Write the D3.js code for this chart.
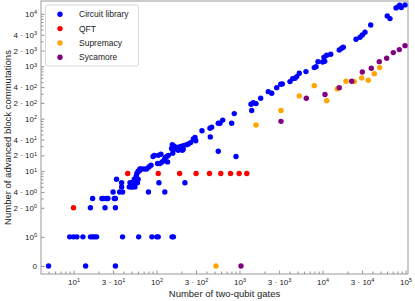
<!DOCTYPE html>
<html>
<head>
<meta charset="utf-8">
<script src="https://cdn.jsdelivr.net/npm/d3@7"></script>
<style>
body { margin: 0; background: #fff; }
text { font-family: "Liberation Sans", Arial, sans-serif; fill: #222; }
</style>
</head>
<body>
<div id="chart"></div>
<script>
var width = 415;
var height = 301;

// Circuit library: two-qubit gates / advanced block commutations
var circuitGates = [5, 14, 32,
	9, 10, 11, 13, 16, 17, 18, 19, 39, 61, 88, 101, 105, 154, 160,
	16, 24, 32,
	17, 22, 23, 25, 26, 31, 32,
	30, 36, 39, 80, 126,
	38, 47, 50, 51, 55,
	38, 48, 51, 54, 59, 107, 220,
	33, 54, 60,
	57, 58, 60, 62, 63, 66, 71, 76, 81, 86, 91, 94, 103, 105, 110, 113, 117, 123, 127, 133, 136, 139,
	152, 155, 157, 159, 164, 175, 183, 188, 188, 201, 205, 210, 216, 231, 242, 258, 278, 291, 297, 353,
	441, 445, 462, 555, 555, 582, 628, 805, 865, 908,
	1376, 1403, 1467, 1581, 1800, 2223, 2444, 2807, 3137, 3278, 4059, 4375, 4665, 4889, 5254, 6325,
	7967, 8350, 8827, 10050, 10420, 10640, 11240, 12560, 15930, 17030, 17820,
	25350, 28310, 30170, 32520, 38100, 60300, 65040, 76880, 81870, 85000, 89000, 98640];
var circuitComms = [0, 0, 0,
	1, 1, 1, 1, 1, 1, 1, 1, 1, 1, 1, 1, 1, 1, 1,
	2, 2, 2,
	3, 3, 3, 3, 3, 3, 3,
	4, 4, 4, 4, 4,
	5, 5, 5, 5, 5,
	6, 6, 6, 6, 6, 6, 6,
	7, 7, 7,
	8, 9, 10, 10, 11, 11, 11, 11, 12, 13, 19, 20, 14, 20, 14, 21, 15, 16, 18, 19, 15, 20,
	27, 32, 22, 25, 30, 28, 25, 29, 26, 30, 25, 26, 31, 32, 33, 35, 41, 44, 38, 59,
	66, 45, 69, 82, 24, 82, 94, 82, 125, 19,
	189, 143, 202, 194, 246, 328, 306, 391, 455, 461, 510, 582, 592, 635, 738, 791,
	943, 985, 1227, 1211, 1489, 1250, 1626, 1699, 2052, 2212, 2311,
	3284, 3586, 3969, 4467, 6152, 9141, 8123, 13000, 13770, 14630, 13160, 14830];

var qftGates = [10, 45, 105, 190, 300, 435, 595, 780, 990, 1225];
var qftComms = [2, 9, 9, 9, 9, 9, 9, 9, 9, 9];

var supremacyGates = [521, 1581, 3162, 5254, 7967, 11240, 15080, 19190, 24160, 29650, 35620, 42080, 48880];
var supremacyComms = [0, 76, 143, 272, 427, 221, 370, 519, 510, 600, 542, 724, 943];

var sycamoreGates = [1042, 3162, 6383, 10720, 15930, 22480, 30170, 38720, 48320, 59340, 71290, 84170, 98640];
var sycamoreComms = [0, 89, 246, 290, 391, 519, 780, 918, 1227, 1425, 1823, 2080, 2478];

var seriesNames = ["Circuit library", "QFT", "Supremacy", "Sycamore"];
var seriesColors = ["#0000ff", "#ff0000", "#ffa500", "#800080"];

var xMajor = [10, 30, 100, 300, 1000, 3000, 10000, 30000, 100000];
var yMajor = [0, 1, 2, 4, 10, 20, 40, 100, 200, 400, 1000, 2000, 4000, 10000];

var margins = { left: 41, right: 7, top: 1, bottom: 27 };
var plotRight = width - margins.right;
var plotBottom = height - margins.bottom;

var svg = d3.select("#chart").append("svg")
	.attr("width", width)
	.attr("height", height);

var x = d3.scaleLog().domain([4.06, 107200]).range([margins.left, plotRight]);

// symlog like matplotlib (linthresh 2, linscale 1)
var linthresh = 2;
var linscaleAdj = 1 / (1 - 0.1);
function symT(v) {
	var a = Math.abs(v);
	if (a <= linthresh) return v / linthresh * linscaleAdj;
	return Math.sign(v) * (linscaleAdj + Math.log10(a / linthresh));
}
var yLin = d3.scaleLinear().domain([symT(-0.275), symT(17600)]).range([plotBottom, margins.top]);
function y(v) { return yLin(symT(v)); }
y.range = function () { return yLin.range(); };
y.domain = function () { return [-0.275, 17600]; };
y.copy = function () { return y; };

function minorTicks(mults, lo, hi, skip) {
	var out = [];
	for (var e = 0; e <= 5; e++) {
		mults.forEach(function (m) {
			var v = m * Math.pow(10, e);
			if (v > lo && v < hi && skip.indexOf(v) < 0) out.push(v);
		});
	}
	return out;
}
var xMinor = minorTicks([2, 4, 5, 6, 7, 8, 9], 4.06, 107200, xMajor);
var yMinor = minorTicks([3, 5, 6, 7, 8, 9], 2, 17600, yMajor);

function fmt(t, v) {
	t.text(null);
	if (v === 0) { t.text("0"); return; }
	var e = Math.floor(Math.log10(v) + 1e-9);
	var m = Math.round(v / Math.pow(10, e));
	t.append("tspan").text(m === 1 ? "10" : m + " \u00b7 10");
	t.append("tspan").attr("dy", "-0.45em").attr("font-size", "5.5px").text(e);
}

// minor ticks
var xAxisMinor = d3.axisBottom(x).tickValues(xMinor).tickSize(-2.5).tickFormat("");
svg.append("g").attr("transform", `translate(0,${plotBottom})`).call(xAxisMinor);
var yAxisMinor = d3.axisLeft(y).tickValues(yMinor).tickSize(-2.5).tickFormat("");
svg.append("g").attr("transform", `translate(${margins.left},0)`).call(yAxisMinor);

var xAxis = d3.axisBottom(x).tickValues(xMajor).tickSize(-3.5).tickPadding(5).tickFormat("");
var xg = svg.append("g").attr("transform", `translate(0,${plotBottom})`).call(xAxis);
var yAxis = d3.axisLeft(y).tickValues(yMajor).tickSize(-3.5).tickPadding(4).tickFormat("");
var yg = svg.append("g").attr("transform", `translate(${margins.left},0)`).call(yAxis);

svg.selectAll(".domain").remove();
svg.selectAll(".tick line").attr("stroke", "#777").attr("stroke-width", 0.8);
xg.selectAll(".tick text").attr("font-size", "8px").attr("fill", "#222")
	.each(function (d) { fmt(d3.select(this), d); });
yg.selectAll(".tick text").attr("font-size", "8px").attr("fill", "#222")
	.each(function (d) { fmt(d3.select(this), d); });

// frame
svg.append("rect")
	.attr("x", margins.left)
	.attr("y", margins.top)
	.attr("width", plotRight - margins.left)
	.attr("height", plotBottom - margins.top)
	.attr("fill", "none")
	.attr("stroke", "#999")
	.attr("stroke-width", 1);

function drawSeries(gates, comms, color) {
	var pts = gates.map(function (g, i) { return [g, comms[i]]; });
	svg.append("g").selectAll("circle")
		.data(pts)
		.enter()
		.append("circle")
		.attr("cx", (d) => x(d[0]))
		.attr("cy", (d) => y(d[1]))
		.attr("r", 2.7)
		.attr("fill", color);
}
drawSeries(circuitGates, circuitComms, seriesColors[0]);
drawSeries(qftGates, qftComms, seriesColors[1]);
drawSeries(supremacyGates, supremacyComms, seriesColors[2]);
drawSeries(sycamoreGates, sycamoreComms, seriesColors[3]);

// axis labels
svg.append("text")
	.attr("x", (margins.left + plotRight) / 2)
	.attr("y", 297)
	.attr("text-anchor", "middle")
	.attr("font-size", "9.5px")
	.text("Number of two-qubit gates");

svg.append("text")
	.attr("transform", `translate(11,${(margins.top + plotBottom) / 2}) rotate(-90)`)
	.attr("text-anchor", "middle")
	.attr("font-size", "9.5px")
	.text("Number of advanced block commutations");

// legend
var legend = svg.append("g");
legend.append("rect")
	.attr("x", 45.5)
	.attr("y", 5)
	.attr("width", 93)
	.attr("height", 61)
	.attr("rx", 2)
	.attr("fill", "#fff")
	.attr("fill-opacity", 0.85)
	.attr("stroke", "#ccc")
	.attr("stroke-width", 0.8);

var legendItems = legend.selectAll("g.item")
	.data(seriesNames)
	.enter()
	.append("g")
	.attr("transform", (d, i) => `translate(60,${14.3 + i * 14.3})`);
legendItems.append("circle")
	.attr("r", 2.7)
	.attr("fill", (d, i) => seriesColors[i]);
legendItems.append("text")
	.attr("x", 19)
	.attr("dy", "0.35em")
	.attr("font-size", "8.5px")
	.text((d) => d);
</script>
</body>
</html>
